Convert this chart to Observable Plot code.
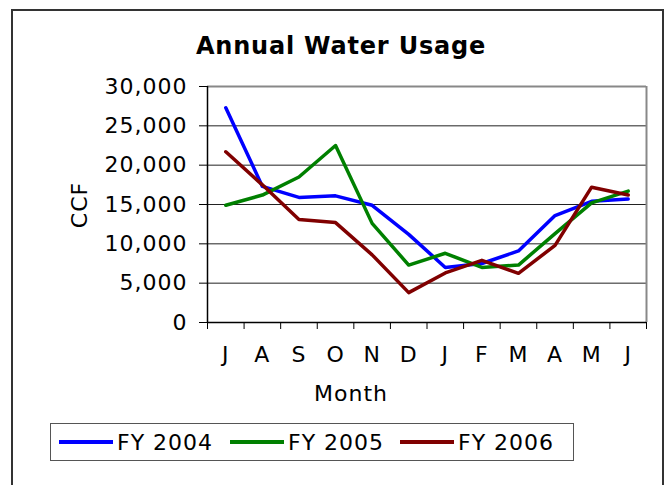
<!DOCTYPE html>
<html>
<head>
<meta charset="utf-8">
<script src="https://cdn.jsdelivr.net/npm/d3@7"></script>
<script src="https://cdn.jsdelivr.net/npm/@observablehq/plot@0.6"></script>
<style>
  html, body { margin: 0; padding: 0; background: #fff; }
  #wrap { position: relative; width: 670px; height: 485px; overflow: hidden; font-family: "DejaVu Sans", sans-serif; }
  #border { position: absolute; left: 11px; top: 9px; width: 653px; height: 520px; border: 2px solid #333; box-sizing: border-box; }
  #chart { position: absolute; left: 0; top: 0; }
  #overlay { position: absolute; left: 0; top: 0; }
</style>
</head>
<body>
<div id="wrap">
  <div id="border"></div>
  <div id="chart"></div>
  <svg id="overlay" width="670" height="485"></svg>
</div>
<script>
const months = ["J", "A", "S", "O", "N", "D", "J", "F", "M", "A", "M", "J"];
const fy2004 = [27300, 17300, 15900, 16100, 14900, 11200, 7000, 7500, 9100, 13600, 15400, 15700];
const fy2005 = [14900, 16200, 18500, 22500, 12600, 7300, 8800, 7000, 7300, 11300, 15200, 16700];
const fy2006 = [21700, 17500, 13100, 12700, 8600, 3800, 6300, 7900, 6250, 9800, 17200, 16200];
const seriesNames = ["FY 2004", "FY 2005", "FY 2006"];
const seriesColors = ["#0000ff", "#008000", "#800000"];
const yTicks = [0, 5000, 10000, 15000, 20000, 25000, 30000];
const title = "Annual Water Usage";
const xTitle = "Month";
const yTitle = "CCF";

const seriesValues = [fy2004, fy2005, fy2006];
const rows = [];
seriesValues.forEach((vals, s) => vals.forEach((v, i) => rows.push({series: seriesNames[s], i: i + 0.5, value: v})));
const bandEdges = d3.range(0, months.length + 1);
const bandCenters = months.map((m, i) => i + 0.5);

const plot = Plot.plot({
  width: 670,
  height: 420,
  marginLeft: 207,
  marginRight: 24,
  marginTop: 86,
  marginBottom: 98,
  style: {fontFamily: "DejaVu Sans", fontSize: "22px", letterSpacing: "1px", color: "#000", background: "transparent"},
  x: {type: "linear", domain: [0, months.length]},
  y: {domain: [0, 30000]},
  color: {domain: seriesNames, range: seriesColors},
  marks: [
    Plot.ruleY(yTicks.slice(1, -1), {stroke: "#222", strokeWidth: 1}),
    Plot.ruleY([yTicks[yTicks.length - 1]], {stroke: "#888", strokeWidth: 2}),
    Plot.ruleX([months.length], {stroke: "#888", strokeWidth: 2}),
    Plot.axisY({ticks: yTicks, tickSize: 8, tickPadding: 12, tickFormat: d3.format(","), label: null, stroke: "#000"}),
    Plot.axisX({ticks: bandEdges, tickSize: 7, tickFormat: () => "", label: null, stroke: "#000"}),
    Plot.axisX({ticks: bandCenters, tickSize: 0, tickPadding: 24, tickFormat: d => months[Math.round(d - 0.5)], label: null}),
    Plot.ruleY([0], {stroke: "#000", strokeWidth: 1.5}),
    Plot.ruleX([0], {stroke: "#000", strokeWidth: 1.5}),
    Plot.lineY(rows, {x: "i", y: "value", z: "series", stroke: "series", strokeWidth: 3.5})
  ]
});
document.getElementById("chart").appendChild(plot);

const ov = d3.select("#overlay").style("font-family", "DejaVu Sans");
ov.append("text").attr("x", 341).attr("y", 54).attr("text-anchor", "middle")
  .attr("font-size", 24).attr("font-weight", "bold").attr("letter-spacing", "0.8px").text(title);
ov.append("text").attr("transform", "translate(87,205) rotate(-90)").attr("text-anchor", "middle")
  .attr("font-size", 22).attr("letter-spacing", "1px").text(yTitle);
ov.append("text").attr("x", 351).attr("y", 401).attr("text-anchor", "middle")
  .attr("font-size", 22).attr("letter-spacing", "1px").text(xTitle);

// legend
ov.append("rect").attr("x", 50.5).attr("y", 423.5).attr("width", 523).attr("height", 37)
  .attr("fill", "#fff").attr("stroke", "#555").attr("stroke-width", 1);
const itemX = [59, 230, 400];
seriesNames.forEach((name, k) => {
  ov.append("line").attr("x1", itemX[k]).attr("x2", itemX[k] + 54).attr("y1", 442).attr("y2", 442)
    .attr("stroke", seriesColors[k]).attr("stroke-width", 4);
  ov.append("text").attr("x", itemX[k] + 58).attr("y", 450).attr("font-size", 22)
    .attr("letter-spacing", "1px").text(name);
});
</script>
</body>
</html>
